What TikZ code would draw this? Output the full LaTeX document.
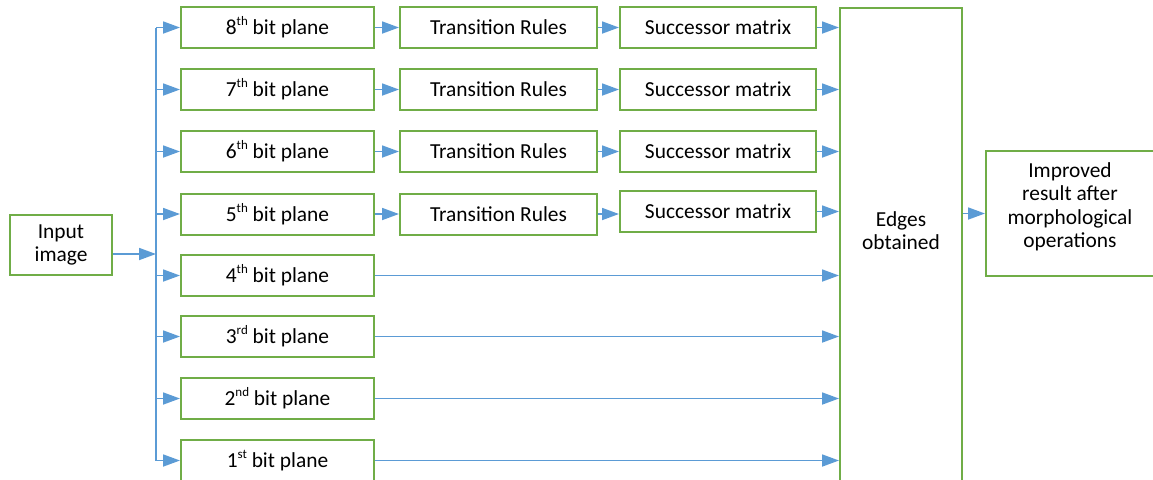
\documentclass[tikz,border=0pt]{standalone}
\usepackage{fontspec}
\setmainfont{Carlito}
\usetikzlibrary{arrows.meta}
\definecolor{boxgreen}{HTML}{70AD47}
\definecolor{arrowblue}{HTML}{5B9BD5}
\newcommand{\ordsup}[1]{\raisebox{0.85ex}{\fontsize{6.5}{6.5}\selectfont #1}}

\begin{document}
\begin{tikzpicture}[x=0.5pt,y=-0.5pt,
    box/.style={draw=boxgreen,line width=1pt,minimum height=20.5pt,inner sep=0pt,
      font=\fontsize{10.7}{11.75}\selectfont},
    flow/.style={draw=arrowblue,line width=0.9pt,-{Triangle[length=8.5pt,width=6pt]}}]
  \useasboundingbox (0,0) rectangle (1153,479);

  % input and bus
  \node[box,minimum width=51pt,minimum height=30pt,align=center] (input) at (61,245) {Input\\image};
  \coordinate (bus) at (156,0);
  \coordinate (busin) at (156,254);

  % bit planes
  \node[box,minimum width=96.5pt] (bit8) at (277.5,27.5) {8\ordsup{th} bit plane};
  \node[box,minimum width=96.5pt] (bit7) at (277.5,89.5) {7\ordsup{th} bit plane};
  \node[box,minimum width=96.5pt] (bit6) at (277.5,151.5) {6\ordsup{th} bit plane};
  \node[box,minimum width=96.5pt] (bit5) at (277.5,214) {5\ordsup{th} bit plane};
  \node[box,minimum width=96.5pt] (bit4) at (277.5,275.5) {4\ordsup{th} bit plane};
  \node[box,minimum width=96.5pt] (bit3) at (277.5,336.5) {3\ordsup{rd} bit plane};
  \node[box,minimum width=96.5pt] (bit2) at (277.5,398.5) {2\ordsup{nd} bit plane};
  \node[box,minimum width=96.5pt] (bit1) at (277.5,460.5) {1\ordsup{st} bit plane};

  % transition rules
  \node[box,minimum width=98.5pt] (rule8) at (498.5,27.5) {Transition Rules};
  \node[box,minimum width=98.5pt] (rule7) at (498.5,89.5) {Transition Rules};
  \node[box,minimum width=98.5pt] (rule6) at (498.5,151.5) {Transition Rules};
  \node[box,minimum width=98.5pt] (rule5) at (498.5,214) {Transition Rules};

  % successor matrices
  \node[box,minimum width=98pt] (succ8) at (718,27.5) {Successor matrix};
  \node[box,minimum width=98pt] (succ7) at (718,89.5) {Successor matrix};
  \node[box,minimum width=98pt] (succ6) at (718,151.5) {Successor matrix};
  \node[box,minimum width=98pt] (succ5) at (718,211.5) {Successor matrix};

  % edges and result
  \node[box,minimum width=61pt,minimum height=260pt,anchor=north] (edges) at (901,7) {};
  \node[font=\fontsize{10.7}{11.75}\selectfont,align=center] (edgestext) at (901,230.5) {Edges\\obtained};
  \node[box,minimum width=84pt,minimum height=62.5pt] (result) at (1070,213.5) {};
  \node[font=\fontsize{10.7}{11.75}\selectfont,align=center] (resulttext) at (1070,207)
    {Improved\\result after\\morphological\\operations};

  % connectors
  \draw[flow] (input.east |- busin) -- (busin);
  \draw[arrowblue,line width=0.9pt] (bit8.west -| bus) -- (bit1.west -| bus);
  \foreach \i in {1,...,8}
    \draw[flow] (bit\i.west -| bus) -- (bit\i.west);
  \foreach \i in {5,...,8} {
    \draw[flow] (bit\i.east) -- (bit\i.east -| rule\i.west);
    \draw[flow] (rule\i.east) -- (rule\i.east -| succ\i.west);
    \draw[flow] (succ\i.east) -- (succ\i.east -| edges.west);
  }
  \foreach \i in {1,...,4}
    \draw[flow] (bit\i.east) -- (bit\i.east -| edges.west);
  \draw[flow] (edges.east |- result.west) -- (result.west);
\end{tikzpicture}
\end{document}
